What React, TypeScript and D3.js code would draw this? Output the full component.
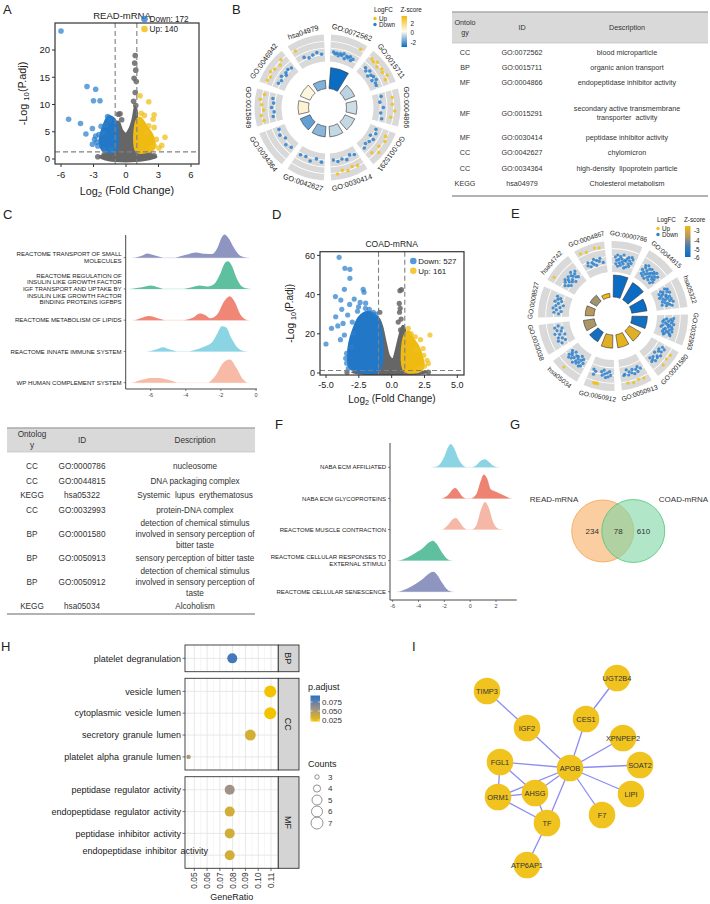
import React from 'react';
import * as d3 from 'd3';

const FONT = "'Liberation Sans', Arial, Helvetica, sans-serif";
type Pt = [number, number];

// ---------------- A: READ-mRNA volcano ----------------
const readGrayCloud: Pt[] = [[-2.4,0.4],[-1.6,1.0],[-1.0,1.3],[-1.0,6.4],[-0.7,6.8],[-0.35,5.2],[0,4.6],[0.35,5.6],[0.65,7.5],[0.85,9.6],[1.0,8.5],[1.0,1.3],[1.8,1.0],[2.8,0.4],[1.6,-0.2],[0,-0.4],[-1.6,-0.2]];
const readGrayPts: Pt[] = [[0.85,19],[0.8,17.6],[0.9,16.3],[0.75,14.8],[0.95,14.2],[0.85,12.2],[0.7,10.6],[0.9,9.8],[-0.55,8.3],[-0.7,8.2],[-0.4,7.2],[-2.6,0.4],[-2.0,0.8],[2.2,0.8],[2.6,0.6]];
const readDownCloud: Pt[] = [[-1.0,1.4],[-1.0,7.0],[-1.3,7.6],[-1.6,7.8],[-1.9,6.8],[-2.2,5.2],[-2.4,3.6],[-2.3,2.2],[-2.0,1.5]];
const readDownPts: Pt[] = [[-6.0,23.5],[-3.6,13.3],[-2.8,12.8],[-3.0,10.7],[-2.4,10.7],[-5.3,7.3],[-4.2,6.5],[-3.1,5.6],[-3.7,4.6],[-2.9,3.6],[-3.1,2.7],[-2.5,4.5],[-2.7,3.1],[-2.3,6],[-1.7,7.8],[-1.55,7.2],[-2.6,2.4],[-2.0,1.7],[-1.4,1.8],[-2.1,4.8],[-1.9,6.2],[-2.8,4.2]];
const readUpCloud: Pt[] = [[1.0,1.4],[1.0,7.0],[1.3,7.5],[1.6,6.8],[2.0,5.6],[2.4,4.4],[2.6,3.0],[2.5,1.8],[2.0,1.4]];
const readUpPts: Pt[] = [[1.3,11.6],[2.1,10.5],[1.7,8.0],[2.6,8.1],[2.5,7.3],[2.6,5.8],[3.6,4.0],[3.3,2.5],[3.05,2.0],[2.1,6.1],[1.4,8.4],[2.8,3.6],[2.3,2.0],[1.2,6.8],[1.9,4.8],[2.6,2.4]];
const readXTicks = [-6, -3, 0, 3, 6];
const readYTicks = [0, 5, 10, 15, 20];

// ---------------- D: COAD-mRNA volcano ----------------
const coadGrayCloud: Pt[] = [[-3.0,0.4],[-1.6,1.0],[-1.0,1.3],[-1.0,28],[-0.75,24],[-0.45,15],[-0.15,8],[0.1,7],[0.35,12],[0.6,19],[0.85,24],[1.0,22],[1.0,1.3],[1.8,1.0],[2.7,0.4],[1.6,-0.5],[0,-0.9],[-1.8,-0.5]];
const coadGrayPts: Pt[] = [[0.63,42],[0.75,42.5],[0.58,35.5],[0.65,33],[0.6,31],[0.72,27.5],[0.5,26],[0.68,22],[-0.9,31],[-3.4,0.4],[2.8,0.4]];
const coadDownCloud: Pt[] = [[-1.0,1.3],[-1.0,27],[-1.3,29.5],[-1.7,31],[-2.1,30.5],[-2.5,28],[-2.9,22],[-3.2,15],[-3.3,8],[-3.2,3],[-2.8,1.3]];
const coadDownPts: Pt[] = [[-4.0,59],[-3.56,53.4],[-3.18,52.9],[-3.18,48.3],[-3.6,42.7],[-2.17,42.7],[-2.1,41.2],[-4.28,39],[-3.87,37.2],[-2.85,37.7],[-3.8,32.5],[-1.98,35.6],[-4.26,28.7],[-3.7,25.3],[-4.58,22.8],[-5.0,14.8],[-4.1,24],[-3.6,19.4],[-3.35,29.6],[-2.52,33.8],[-1.7,32.5],[-3.43,10],[-3.43,5],[-3.05,13.4],[-2.9,20],[-3.9,17],[-3.3,2.4],[-2.6,31.5],[-1.4,31],[-2.0,33],[-3.0,26],[-3.5,7.5],[-2.4,36],[-1.2,30],[-3.2,35]];
const coadUpCloud: Pt[] = [[1.0,1.3],[1.0,19],[1.3,21],[1.6,17.5],[2.0,13.5],[2.3,8],[2.4,4],[2.2,1.3]];
const coadUpPts: Pt[] = [[2.92,19.4],[1.27,22.8],[1.8,18.5],[2.2,17],[2.7,6.5],[2.45,9],[1.9,11.7],[2.5,3.5],[2.1,2.3],[1.5,20],[2.4,12.5],[2.8,4.8]];
const coadXTicks = [-5, -2.5, 0, 2.5, 5];
const coadYTicks = [0, 20, 40, 60];

// ---------------- B: GO circle (READ) ----------------
const readTerms = ['GO:0072562','GO:0015711','GO:0004866','GO:0015291','GO:0030414','GO:0042627','GO:0034364','GO:0015849','GO:0046942','hsa04979'];
const readTermLogFC: number[][] = [
  [-1.2,-1.8,-1.5,-2.2,-1.4,-1.9,-1.1,-2.6,-1.6,-2.0,-1.3,-2.4,-1.7,2.5],
  [2.1,-1.5,1.8,-2.2,2.6,-1.2,1.5,-2.8,-1.8,2.3,-1.4,1.9,-2.5,-1.1,2.8,-1.9,1.6,-2.0],
  [-1.6,2.0,-2.3,1.8,-1.2,2.6,-2.0,1.5,-1.4],
  [-2.1,1.8,-1.5,2.4,-2.8,-1.2,1.6,-1.9,2.9,-2.4,1.3,-1.6],
  [-1.8,1.9,-2.4,1.5,-1.3,2.3,-2.0,1.7,-1.5,2.6,-2.2],
  [-1.5,-2.3,-1.1,-2.0,-1.7],
  [-1.9,-1.2,-2.5,-1.5,-2.1],
  [1.8,-1.5,2.4,-2.0,1.5,-1.2,2.1,-1.8,2.7,-1.4,1.6],
  [2.2,-1.6,1.7,-2.1,2.6,-1.3,1.9,-2.4,-1.8,1.4,-1.5,2.4,-2.0],
  [1.8,-1.4,-2.2,-1.7,-1.2,-2.0],
];
const readTermBar = [10, 5, 5, 5, 5, 5, 5, 5, 5, 4];
const readTermZ = [-2.6, -0.7, -0.5, -0.6, -0.6, -1.2, -1.6, 0.3, 0.2, -1.3];

// ---------------- E: GO circle (COAD) ----------------
const coadTerms = ['GO:0000786','GO:0044815','hsa05322','GO:0032993','GO:0001580','GO:0050913','GO:0050912','hsa05034','GO:0033038','GO:0008527','hsa04742','GO:0004867'];
const coadTermLogFC: number[][] = [
  [-2.1,-4.3,-3.2,-1.5,-5.0,-2.8,-3.9,-1.9,-4.6,-2.5,-3.5,-1.2,-4.1,-2.9,-5.3,-3.0,-2.2,-4.8,-1.7,-3.7,-2.6,-4.4,-1.4,-3.3,-2.0],
  [-3.4,-1.8,-4.7,-2.4,-3.9,-1.3,-5.1,-2.9,-4.2,-2.0,-3.6,-5.4,-1.6,-3.1,-4.5,-2.6,-3.8,-1.9,-4.9,-2.3,-3.3,-1.5,-4.0,-2.7,-5.2,-3.5,-2.1,-4.4],
  [-2.4,-4.0,-1.7,-3.3,-4.8,-2.1,-3.7,-1.4,-4.4,-2.8,-5.1,-3.0,-1.9,-4.2,-2.6,-3.5,-1.6,-4.6,-2.2,-3.9,-1.2,-3.1,-4.9,-2.5,-3.6,-1.8],
  [-1.6,-3.8,-2.5,-4.6,-1.9,-3.2,-5.0,-2.2,-4.1,-1.4,-3.5,-2.8,-4.8,-2.0,-3.0,-5.3,-1.7,-3.9,-2.4,-4.3,-1.5,-3.3,-2.7,-4.5,-2.1,-3.7,-1.8,-4.0],
  [-2.3,-1.4,1.2,-3.0,-1.8,-2.6,0.9,-1.2,-3.4,-2.0,-1.6,1.4,-2.8,-1.3,-2.2,-3.2,-1.9],
  [-2.2,1.1,-3.1,-1.6,-2.5,0.8,-1.3,-2.9,-1.9,1.3,-2.4,-1.5,-3.3,1.0,-2.0,-1.7],
  [-2.0,-3.2,-1.5,-2.7,-1.2,-2.3,-3.5,-1.8,-2.9,1.2,1.0,1.3,1.1,-2.5,-1.4,-3.0],
  [-3.1,-2.0,-4.3,-1.6,-3.6,-2.6,-4.8,-1.9,-3.3,-2.3,-4.0,-1.4,-3.8,-2.8,1.6,-2.1,-4.5,-3.0,-1.7,-3.5,-2.4,-4.1],
  [-2.6,-4.1,-1.8,-3.4,-2.2,-4.6,-3.0,-1.6,-3.8,-2.5,-4.3,-2.0,-3.2],
  [-3.6,-2.1,-4.4,-2.8,-1.7,-3.9,-2.4,-4.8,-3.1,-1.9,-4.0,-2.6,-3.4,-2.2],
  [-2.9,1.5,-3.8,-2.3,-4.5,-1.8,-3.3,-2.6,-4.1,-2.0,-3.6,-4.8,-2.4,-3.0,-1.6,-3.9,-2.8,-4.3,-2.2],
  [1.4,-3.1,-2.2,-3.8,1.0,-2.7,-3.4,-1.9,-4.0,-2.5,1.5,-3.0,-2.1,1.2,-3.6],
];
const coadTermBar = [10, 9, 7, 7, 6, 6, 6, 5, 5, 4, 3.5, 1.8];
const coadTermZ = [-6, -6, -6, -5.8, -3.3, -3.2, -3.3, -5.8, -4.1, -4.0, -4.2, -3.0];

// ---------------- Tables ----------------
const tableHeader = ['ID', 'Description'];
const tableBOnt = ['CC','BP','MF','MF','MF','CC','CC','KEGG'];
const tableBId = ['GO:0072562','GO:0015711','GO:0004866','GO:0015291','GO:0030414','GO:0042627','GO:0034364','hsa04979'];
const tableBDesc = [['blood microparticle'],['organic anion transport'],['endopeptidase inhibitor activity'],['secondary active transmembrane','transporter  activity'],['peptidase inhibitor activity'],['chylomicron'],['high-density  lipoprotein particle'],['Cholesterol metabolism']];
const tableCOnt = ['CC','CC','KEGG','CC','BP','BP','BP','KEGG'];
const tableCId = ['GO:0000786','GO:0044815','hsa05322','GO:0032993','GO:0001580','GO:0050913','GO:0050912','hsa05034'];
const tableCDesc = [['nucleosome'],['DNA packaging complex'],['Systemic  lupus  erythematosus'],['protein-DNA complex'],['detection of chemical stimulus','involved in sensory perception of','bitter taste'],['sensory perception of bitter taste'],['detection of chemical stimulus','involved in sensory perception of','taste'],['Alcoholism']];

// ---------------- C / F: ridges ----------------
const ridgeCLabels = [
  ['REACTOME TRANSPORT OF SMALL','MOLECULES'],
  ['REACTOME REGULATION OF','INSULIN LIKE GROWTH FACTOR','IGF TRANSPORT AND UPTAKE BY','INSULIN LIKE GROWTH FACTOR','BINDING PROTEINS IGFBPS'],
  ['REACTOME METABOLISM OF LIPIDS'],
  ['REACTOME INNATE IMMUNE SYSTEM'],
  ['WP HUMAN COMPLEMENT SYSTEM'],
];
const ridgeCDensity: Pt[][][] = [
  [[[-6.9,0],[-6.5,0.08],[-6.2,0.18],[-5.8,0.1],[-5.3,0]],[[-4.6,0],[-4.0,0.12],[-3.4,0.22],[-2.9,0.16],[-2.5,0.15],[-2.2,0.4],[-1.95,0.85],[-1.8,0.97],[-1.55,0.8],[-1.25,0.4],[-0.9,0.08],[-0.5,0]]],
  [[[-7.1,0],[-6.5,0.07],[-6.0,0.14],[-5.6,0.07],[-5.3,0]],[[-4.1,0],[-3.6,0.08],[-3.2,0.14],[-2.8,0.1],[-2.4,0.2],[-2.0,0.7],[-1.8,1.05],[-1.6,1.15],[-1.4,1.0],[-1.1,0.45],[-0.8,0.1],[-0.4,0]]],
  [[[-6.9,0],[-6.5,0.1],[-6.1,0.17],[-5.6,0.08],[-5.2,0]],[[-4.1,0],[-3.6,0.1],[-3.2,0.28],[-2.9,0.22],[-2.6,0.08],[-2.2,0.25],[-1.8,0.8],[-1.5,1.0],[-1.2,0.75],[-0.9,0.25],[-0.5,0]]],
  [[[-6.1,0],[-5.7,0.08],[-5.3,0.18],[-4.9,0.08],[-4.5,0]],[[-3.8,0],[-3.3,0.1],[-2.9,0.22],[-2.5,0.38],[-2.2,0.75],[-1.95,1.05],[-1.7,1.0],[-1.4,0.55],[-1.0,0.12],[-0.6,0]]],
  [[[-7.0,0],[-6.5,0.12],[-6.0,0.2],[-5.5,0.2],[-5.0,0.12],[-4.5,0]],[[-2.7,0],[-2.3,0.3],[-1.9,0.8],[-1.5,0.97],[-1.1,0.6],[-0.8,0.2],[-0.5,0]]],
];
const ridgeCTicks = [-6, -4, -2, 0];

const ridgeFLabels = [
  ['NABA ECM AFFILIATED'],
  ['NABA ECM GLYCOPROTEINS'],
  ['REACTOME MUSCLE CONTRACTION'],
  ['REACTOME CELLULAR RESPONSES TO','EXTERNAL STIMULI'],
  ['REACTOME CELLULAR SENESCENCE'],
];
const ridgeFDensity: Pt[][][] = [
  [[[-2.85,0],[-2.4,0.1],[-2.0,0.45],[-1.7,0.85],[-1.5,0.97],[-1.25,0.8],[-0.9,0.35],[-0.55,0.08],[-0.25,0]],[[0.15,0],[0.5,0.1],[0.85,0.28],[1.15,0.34],[1.5,0.2],[1.8,0.06],[2.1,0]]],
  [[[-2.1,0],[-1.7,0.15],[-1.35,0.38],[-1.15,0.43],[-0.9,0.3],[-0.6,0.08],[-0.35,0]],[[0.1,0],[0.5,0.2],[0.8,0.7],[1.05,1.0],[1.3,0.85],[1.6,0.38],[2.0,0.28],[2.5,0.15],[3.1,0]]],
  [[[-2.1,0],[-1.7,0.2],[-1.35,0.43],[-1.1,0.48],[-0.8,0.3],[-0.5,0.08],[-0.25,0]],[[0.15,0],[0.5,0.2],[0.85,0.85],[1.15,1.15],[1.45,0.9],[1.75,0.35],[2.1,0.05],[2.4,0]]],
  [[[-5.45,0],[-4.9,0.12],[-4.3,0.3],[-3.7,0.5],[-3.2,0.75],[-2.9,0.83],[-2.6,0.7],[-2.2,0.35],[-1.8,0.08],[-1.55,0]]],
  [[[-5.5,0],[-4.9,0.12],[-4.3,0.3],[-3.7,0.52],[-3.2,0.75],[-2.85,0.83],[-2.55,0.7],[-2.15,0.35],[-1.75,0.08],[-1.45,0]]],
];
const ridgeFTicks = [-6, -4, -2, 0, 2];

// ---------------- G: Venn ----------------
const vennNames = ['READ-mRNA', 'COAD-mRNA'];
const vennCounts = [234, 78, 610];

// ---------------- H: GO dot plot ----------------
const dotOntologies = ['BP', 'CC', 'MF'];
const dotTerms = [
  ['platelet degranulation'],
  ['vesicle lumen','cytoplasmic vesicle lumen','secretory granule lumen','platelet alpha granule lumen'],
  ['peptidase regulator activity','endopeptidase regulator activity','peptidase inhibitor activity','endopeptidase inhibitor activity'],
];
const dotGeneRatio = [[0.0797],[0.1094,0.1094,0.0938,0.0455],[0.0777,0.0777,0.0777,0.0777]];
const dotPadj = [[0.082],[0.012,0.012,0.034,0.05],[0.056,0.035,0.035,0.035]];
const dotCount = [[5],[7,7,6,3],[5,5,5,5]];
const dotXTicks = [0.05, 0.06, 0.07, 0.08, 0.09, 0.10, 0.11];
const padjTicks = [0.075, 0.05, 0.025];
const countLegend = [3, 4, 5, 6, 7];

// ---------------- I: PPI network ----------------
const netNodes: [string, number, number][] = [
  ['UGT2B4',137,8],['TIMP3',7,21],['CES1',106,49],['IGF2',47,58],['XPNPEP2',143,68],['FGL1',20,92],['APOB',90,98],
  ['SOAT2',160,95],['AHSG',55,123],['ORM1',18,127],['LIPI',151,124],['F7',122,145],['TF',67,153],['ATP6AP1',47,195],
];
const netEdges: [string, string][] = [
  ['TIMP3','IGF2'],['IGF2','APOB'],['UGT2B4','CES1'],['CES1','APOB'],['XPNPEP2','APOB'],['SOAT2','APOB'],['LIPI','APOB'],
  ['F7','APOB'],['TF','APOB'],['AHSG','APOB'],['ORM1','APOB'],['FGL1','APOB'],['FGL1','AHSG'],['FGL1','ORM1'],
  ['ORM1','AHSG'],['ORM1','TF'],['AHSG','TF'],['TF','ATP6AP1'],
];

// =====================================================================

const BLUE = '#2a80cc';
const YELLOW = '#f1bf1a';

function Sub({ main, sub, post }: { main: string; sub: string; post: string }) {
  return (
    <>
      {main}
      <tspan fontSize="0.72em" dy="0.3em">{sub}</tspan>
      <tspan dy="-0.3em">{post}</tspan>
    </>
  );
}

type VolcanoProps = {
  id: string;
  box: [number, number, number, number];
  xRef: [number, number]; xPx: [number, number];
  yRef: [number, number]; yPx: [number, number];
  xTicks: number[]; yTicks: number[]; fmt: (v: number) => string;
  tickFs: number; axisFs: number; titleFs: number; legendFs: number;
  title: string; titleX: number; titleY: number;
  legX: number; legY: number; legGap: number; down: string; up: string;
  yTitleX: number; xTitleY: number; dotR: number;
  gray: Pt[]; grayPts: Pt[]; blue: Pt[]; bluePts: Pt[]; yellow: Pt[]; yellowPts: Pt[];
};

function Volcano(p: VolcanoProps) {
  const [bx0, by0, bx1, by1] = p.box;
  const x = d3.scaleLinear().domain(p.xRef).range(p.xPx);
  const y = d3.scaleLinear().domain(p.yRef).range(p.yPx);
  const hull = d3.line<Pt>().x(d => x(d[0])).y(d => y(d[1])).curve(d3.curveCatmullRomClosed.alpha(0.5));
  const clip = `vclip-${p.id}`;
  const dots = (pts: Pt[], fill: string, op: number) =>
    pts.map((d, i) => <circle key={i} cx={x(d[0])} cy={y(d[1])} r={p.dotR} fill={fill} fillOpacity={op} />);
  return (
    <g>
      <defs>
        <clipPath id={clip}><rect x={bx0} y={by0} width={bx1 - bx0} height={by1 - by0} /></clipPath>
      </defs>
      <g clipPath={`url(#${clip})`}>
        <path d={hull(p.gray) ?? ''} fill="#666" stroke="#666" strokeWidth={2.5} strokeLinejoin="round" />
        {dots(p.grayPts, '#666', 0.85)}
        <path d={hull(p.blue) ?? ''} fill="#2277c6" stroke="#2277c6" strokeWidth={3} strokeLinejoin="round" />
        {dots(p.bluePts, BLUE, 0.72)}
        <path d={hull(p.yellow) ?? ''} fill="#efbb12" stroke="#efbb12" strokeWidth={3} strokeLinejoin="round" />
        {dots(p.yellowPts, YELLOW, 0.75)}
        {[-1, 1].map(v => (
          <line key={v} x1={x(v)} x2={x(v)} y1={by0} y2={by1} stroke="#808080" strokeWidth={1.1} strokeDasharray="5 3" />
        ))}
        <line x1={bx0} x2={bx1} y1={y(1.3)} y2={y(1.3)} stroke="#808080" strokeWidth={1.1} strokeDasharray="5 3" />
      </g>
      <rect x={bx0} y={by0} width={bx1 - bx0} height={by1 - by0} fill="none" stroke="#333" strokeWidth={1.2} />
      {p.yTicks.map(t => (
        <g key={t}>
          <line x1={bx0 - 3} x2={bx0} y1={y(t)} y2={y(t)} stroke="#333" />
          <text x={bx0 - 5} y={y(t)} dy="0.35em" textAnchor="end" fontSize={p.tickFs} fill="#222">{t}</text>
        </g>
      ))}
      {p.xTicks.map(t => (
        <g key={t}>
          <line x1={x(t)} x2={x(t)} y1={by1} y2={by1 + 3} stroke="#333" />
          <text x={x(t)} y={by1 + 4 + p.tickFs} textAnchor="middle" fontSize={p.tickFs} fill="#222">{p.fmt(t)}</text>
        </g>
      ))}
      <text x={p.titleX} y={p.titleY} textAnchor="middle" fontSize={p.titleFs} fill="#222">{p.title}</text>
      <text transform={`translate(${p.yTitleX},${(by0 + by1) / 2}) rotate(-90)`} textAnchor="middle" fontSize={p.axisFs} fill="#222">
        <Sub main="-Log " sub="10" post="(P.adj)" />
      </text>
      <text x={(bx0 + bx1) / 2} y={p.xTitleY} textAnchor="middle" fontSize={p.axisFs} fill="#222">
        <Sub main="Log" sub="2" post=" (Fold Change)" />
      </text>
      <circle cx={p.legX} cy={p.legY} r={3.3} fill={BLUE} fillOpacity={0.8} />
      <text x={p.legX + 5} y={p.legY + 3} fontSize={p.legendFs} fill="#222">{p.down}</text>
      <circle cx={p.legX} cy={p.legY + p.legGap} r={3.3} fill={YELLOW} fillOpacity={0.85} />
      <text x={p.legX + 5} y={p.legY + p.legGap + 3} fontSize={p.legendFs} fill="#222">{p.up}</text>
    </g>
  );
}

type CircleProps = {
  cx: number; cy: number; terms: string[]; genes: number[][]; bars: number[]; zs: number[];
  color: (z: number) => string; rIn: number; rOut: number; barIn: number; barOut: number;
  fcDomain: [number, number]; offsetDeg: number; labelFs: number; dotR: number; labelR: number;
};

function GOCircle(p: CircleProps) {
  const n = p.terms.length;
  const step = (2 * Math.PI) / n;
  const off = (p.offsetDeg * Math.PI) / 180;
  const pad = 0.05;
  const rFC = d3.scaleLinear().domain(p.fcDomain).range([p.rIn + 3, p.rOut - 3]);
  const rBar = d3.scaleLinear().domain([0, 10]).range([p.barIn, p.barOut]);
  const arc = d3.arc<any>();
  return (
    <g transform={`translate(${p.cx},${p.cy})`}>
      {p.terms.map((t, i) => {
        const a0 = off + i * step + pad;
        const a1 = off + (i + 1) * step - pad;
        const mid = (a0 + a1) / 2;
        const deg = (mid * 180) / Math.PI;
        const norm = ((deg % 360) + 360) % 360;
        const flip = norm > 128 && norm < 272;
        const lx = p.labelR * Math.sin(mid);
        const ly = -p.labelR * Math.cos(mid);
        const pos = d3.scalePoint<number>().domain(d3.range(p.genes[i].length)).range([a0 + 0.06, a1 - 0.06]);
        const bpad = 0.03;
        return (
          <g key={t}>
            <path d={arc({ innerRadius: p.rIn, outerRadius: p.rOut, startAngle: a0, endAngle: a1 }) ?? ''} fill="#d9d9d9" />
            {[0.25, 0.5, 0.75].map(f => {
              const r = p.rIn + f * (p.rOut - p.rIn);
              return <path key={f} d={arc({ innerRadius: r - 0.45, outerRadius: r + 0.45, startAngle: a0, endAngle: a1 }) ?? ''} fill="#fff" />;
            })}
            {p.genes[i].map((v, j) => {
              const a = pos(j) ?? mid;
              const r = rFC(v);
              return <circle key={j} cx={r * Math.sin(a)} cy={-r * Math.cos(a)} r={p.dotR} fill={v > 0 ? YELLOW : BLUE} fillOpacity={0.85} />;
            })}
            <path
              d={arc({ innerRadius: p.barIn, outerRadius: rBar(p.bars[i]), startAngle: a0 + bpad, endAngle: a1 - bpad }) ?? ''}
              fill={p.color(p.zs[i])} stroke="#333" strokeWidth={0.6}
            />
            <text transform={`translate(${lx},${ly}) rotate(${flip ? norm - 180 : norm})`} textAnchor="middle" dy="0.35em" fontSize={p.labelFs} fill="#222">{t}</text>
          </g>
        );
      })}
    </g>
  );
}

function CircleLegend({ x, y, zx, grad, ticks, tickY }: { x: number; y: number; zx: number; grad: string; ticks: string[]; tickY: number[] }) {
  return (
    <g fontSize={6.3} fill="#222">
      <text x={x} y={y}>LogFC</text>
      <circle cx={x + 1} cy={y + 6.5} r={1.7} fill={YELLOW} />
      <text x={x + 5} y={y + 8.8}>Up</text>
      <circle cx={x + 1} cy={y + 12.5} r={1.7} fill={BLUE} />
      <text x={x + 5} y={y + 14.8}>Down</text>
      <text x={zx - 1} y={y}>Z-score</text>
      <rect x={zx} y={y + 4} width={5.5} height={31} fill={`url(#${grad})`} />
      {ticks.map((t, i) => (
        <text key={t} x={zx + 9} y={tickY[i]} dy="0.35em">{t}</text>
      ))}
    </g>
  );
}

function Table({ x0, x1, top, headBottom, bottom, colX, fs, ont, ids, desc, rowY, lineH, headLines }: any) {
  return (
    <g fontSize={fs} fill="#333" textAnchor="middle">
      <rect x={x0} y={top} width={x1 - x0} height={headBottom - top} fill="#d9d9d9" />
      <line x1={x0} x2={x1} y1={top} y2={top} stroke="#aaa" strokeWidth={1.5} />
      <line x1={x0} x2={x1} y1={headBottom} y2={headBottom} stroke="#bbb" strokeWidth={0.6} />
      <line x1={x0} x2={x1} y1={bottom} y2={bottom} stroke="#666" strokeWidth={1} />
      <text x={colX[0]} y={(top + headBottom) / 2 - lineH / 2} dy="0.35em">{headLines[0]}</text>
      <text x={colX[0]} y={(top + headBottom) / 2 + lineH / 2} dy="0.35em">{headLines[1]}</text>
      <text x={colX[1]} y={(top + headBottom) / 2} dy="0.35em">{tableHeader[0]}</text>
      <text x={colX[2]} y={(top + headBottom) / 2} dy="0.35em">{tableHeader[1]}</text>
      {ont.map((o: string, i: number) => (
        <g key={i}>
          <text x={colX[0]} y={rowY[i]} dy="0.35em">{o}</text>
          <text x={colX[1]} y={rowY[i]} dy="0.35em">{ids[i]}</text>
          {desc[i].map((l: string, k: number) => (
            <text key={k} x={colX[2]} y={rowY[i] + (k - (desc[i].length - 1) / 2) * lineH} dy="0.35em" style={{ whiteSpace: 'pre' }}>{l}</text>
          ))}
        </g>
      ))}
    </g>
  );
}

type RidgeProps = {
  labels: string[][]; dens: Pt[][][]; colors: string[]; ticks: number[];
  xRef: [number, number]; xPx: [number, number]; axisX: [number, number];
  base0: number; gap: number; hUnit: number; axisTop: number; axisY: number; fs: number; lineH: number; tickFs: number;
};

function Ridges(p: RidgeProps) {
  const x = d3.scaleLinear().domain(p.xRef).range(p.xPx);
  const yBase = d3.scaleLinear().domain([0, 1]).range([p.base0, p.base0 + p.gap]);
  return (
    <g>
      {p.dens.map((parts, i) => {
        const b = yBase(i);
        const area = d3.area<Pt>().x(d => x(d[0])).y0(b).y1(d => b - d[1] * p.hUnit).curve(d3.curveMonotoneX);
        return (
          <g key={i}>
            <line x1={x(parts[0][0][0]) - 2} x2={x(parts[parts.length - 1][parts[parts.length - 1].length - 1][0]) + 2} y1={b} y2={b} stroke={p.colors[i]} strokeOpacity={0.35} strokeWidth={0.8} />
            {parts.map((seg, k) => <path key={k} d={area(seg) ?? ''} fill={p.colors[i]} />)}
          </g>
        );
      })}
      <line x1={p.axisX[0]} x2={p.axisX[0]} y1={p.axisTop} y2={p.axisY} stroke="#333" strokeWidth={0.9} />
      <line x1={p.axisX[0]} x2={p.axisX[1]} y1={p.axisY} y2={p.axisY} stroke="#333" strokeWidth={0.9} />
      {p.ticks.map(t => (
        <g key={t}>
          <line x1={x(t)} x2={x(t)} y1={p.axisY} y2={p.axisY + 2} stroke="#333" strokeWidth={0.6} />
          <text x={x(t)} y={p.axisY + 4.5} dy="0.7em" textAnchor="middle" fontSize={p.tickFs} fill="#444">{t}</text>
        </g>
      ))}
      {p.labels.map((ls, i) => {
        const b = yBase(i);
        return (
          <g key={i}>
            <line x1={p.axisX[0] - 2} x2={p.axisX[0]} y1={b} y2={b} stroke="#333" strokeWidth={0.6} />
            {ls.map((l, k) => (
              <text key={k} x={p.axisX[0] - 4} y={b + (k - (ls.length - 1) / 2) * p.lineH} dy="0.35em" textAnchor="end" fontSize={p.fs} fill="#222">{l}</text>
            ))}
          </g>
        );
      })}
    </g>
  );
}

function DotPlot() {
  const x = d3.scaleLinear().domain([0.05, 0.11]).range([194.3, 271]);
  const px0 = 185, px1 = 278.3, sx1 = 299;
  const panelY: [number, number][] = [[645, 671.7], [678.3, 770], [776.7, 868.3]];
  const col = d3.scaleLinear<string>().domain([0.02, 0.055, 0.09]).range(['#f3c200', '#a39384', '#2a6fc9']).clamp(true);
  const size = d3.scaleLinear().domain([3, 5, 7]).range([2.2, 5, 6]);
  const minor = d3.range(0.045, 0.116, 0.01);
  return (
    <g>
      {dotOntologies.map((o, pi) => {
        const [t, b] = panelY[pi];
        const y = d3.scalePoint<string>().domain(dotTerms[pi]).range([t, b]).padding(0.6);
        return (
          <g key={o}>
            <rect x={px0} y={t} width={px1 - px0} height={b - t} fill="#fff" />
            {minor.map(m => <line key={m} x1={x(m)} x2={x(m)} y1={t} y2={b} stroke="#f0f0f0" strokeWidth={0.6} />)}
            {dotXTicks.map(m => <line key={m} x1={x(m)} x2={x(m)} y1={t} y2={b} stroke="#e2e2e2" strokeWidth={0.8} />)}
            {dotTerms[pi].map(term => <line key={term} x1={px0} x2={px1} y1={y(term)} y2={y(term)} stroke="#e2e2e2" strokeWidth={0.8} />)}
            {dotTerms[pi].map((term, i) => (
              <circle key={term} cx={x(dotGeneRatio[pi][i])} cy={y(term)} r={size(dotCount[pi][i])} fill={col(dotPadj[pi][i])} />
            ))}
            <rect x={px0} y={t} width={px1 - px0} height={b - t} fill="none" stroke="#333" strokeWidth={0.9} />
            <rect x={px1} y={t} width={sx1 - px1} height={b - t} fill="#d4d4d4" stroke="#333" strokeWidth={0.9} />
            <text transform={`translate(${(px1 + sx1) / 2},${(t + b) / 2}) rotate(90)`} textAnchor="middle" dy="0.35em" fontSize={9} fill="#222">{o}</text>
            {dotTerms[pi].map((term, i) => {
              const last = pi === 2 && i === dotTerms[pi].length - 1;
              return (
                <g key={term}>
                  {!last && <line x1={px0 - 2.5} x2={px0} y1={y(term)} y2={y(term)} stroke="#333" strokeWidth={0.7} />}
                  <text x={last ? 208 : px0 - 4} y={(y(term) ?? 0) - (last ? 4 : 0)} dy="0.35em" textAnchor="end" fontSize={9} wordSpacing={1.2} fill="#222">{term}</text>
                </g>
              );
            })}
          </g>
        );
      })}
      {dotXTicks.map(t => (
        <g key={t}>
          <line x1={x(t)} x2={x(t)} y1={868.3} y2={871} stroke="#333" strokeWidth={0.7} />
          <text transform={`translate(${x(t)},${872.5}) rotate(-90)`} textAnchor="end" dy="0.35em" fontSize={8.3} fill="#333">{t.toFixed(2)}</text>
        </g>
      ))}
      <text x={(px0 + px1) / 2} y={900} textAnchor="middle" fontSize={9} fill="#222">GeneRatio</text>
      <defs>
        <linearGradient id="padjGrad" x1="0" x2="0" y1="0" y2="1">
          <stop offset="0%" stopColor={col(0.093)} />
          <stop offset="50%" stopColor={col(0.057)} />
          <stop offset="100%" stopColor={col(0.021)} />
        </linearGradient>
      </defs>
      <text x={308} y={690} fontSize={9} fill="#222">p.adjust</text>
      <rect x={310.5} y={695.5} width={9.5} height={26} fill="url(#padjGrad)" />
      {padjTicks.map(t => {
        const yy = 695.5 + ((0.093 - t) / (0.093 - 0.021)) * 26;
        return (
          <g key={t}>
            <line x1={310.5} x2={312.5} y1={yy} y2={yy} stroke="#fff" strokeWidth={0.6} />
            <line x1={318} x2={320} y1={yy} y2={yy} stroke="#fff" strokeWidth={0.6} />
            <text x={322} y={yy} dy="0.35em" fontSize={8} fill="#333">{t.toFixed(3)}</text>
          </g>
        );
      })}
      <text x={308} y={767} fontSize={9} fill="#222">Counts</text>
      {countLegend.map((c, i) => {
        const yy = 777 + i * 11.5;
        return (
          <g key={c}>
            <circle cx={317} cy={yy} r={size(c)} fill="none" stroke="#777" strokeWidth={0.8} />
            <text x={328} y={yy} dy="0.35em" fontSize={8} fill="#333">{c}</text>
          </g>
        );
      })}
    </g>
  );
}

function Network() {
  const x = d3.scaleLinear().domain([0, 160]).range([480, 640]);
  const y = d3.scaleLinear().domain([0, 195]).range([670, 865]);
  const byName = new Map(netNodes.map(n => [n[0], n]));
  return (
    <g>
      {netEdges.map(([a, b], i) => {
        const na = byName.get(a)!, nb = byName.get(b)!;
        return <line key={i} x1={x(na[1])} y1={y(na[2])} x2={x(nb[1])} y2={y(nb[2])} stroke="#8c8cf2" strokeWidth={1.3} />;
      })}
      {netNodes.map(n => (
        <g key={n[0]}>
          <circle cx={x(n[1])} cy={y(n[2])} r={13.3} fill="#f0c31f" />
          <text x={x(n[1])} y={y(n[2])} dy="0.35em" textAnchor="middle" fontSize={7.4} fill="#333">{n[0]}</text>
        </g>
      ))}
    </g>
  );
}

function Venn() {
  const x = d3.scaleLinear().domain([0, 1]).range([602.7, 633.3]);
  return (
    <g fontSize={8} fill="#333">
      <circle cx={x(0)} cy={531} r={31} fill="#f8b36f" fillOpacity={0.65} stroke="#f5a453" strokeWidth={0.8} />
      <circle cx={x(1)} cy={531} r={31.5} fill="#7ed6a3" fillOpacity={0.6} stroke="#4cc47a" strokeWidth={0.8} />
      <text x={592.3} y={531} dy="0.35em" textAnchor="middle">{vennCounts[0]}</text>
      <text x={618.3} y={531} dy="0.35em" textAnchor="middle">{vennCounts[1]}</text>
      <text x={643.5} y={531} dy="0.35em" textAnchor="middle">{vennCounts[2]}</text>
      <text x={554} y={499} dy="0.35em" textAnchor="middle">{vennNames[0]}</text>
      <text x={683.5} y={499} dy="0.35em" textAnchor="middle">{vennNames[1]}</text>
    </g>
  );
}

const panelLetters: [string, number, number][] = [
  ['A', 3, 14], ['B', 232, 14], ['C', 3, 219], ['D', 272, 219], ['E', 511, 218],
  ['F', 275, 429], ['G', 510, 429], ['H', 1, 651], ['I', 412, 651],
];

export default function App() {
  const zB = d3.scaleLinear<string>().domain([-2.5, 0, 2.5]).range(['#0b6cc4', '#fffbee', '#f1b80c']).clamp(true);
  const zE = d3.scaleLinear<string>().domain([-6, -5, -4, -3]).range(['#0b6cc4', '#3f7bb5', '#b8995f', '#f2b90f']).clamp(true);
  return (
    <svg width={710} height={904} style={{ position: 'absolute', left: 0, top: 0, background: '#fff' }} fontFamily={FONT}>
      <defs>
        <linearGradient id="zGradB" x1="0" x2="0" y1="0" y2="1">
          <stop offset="0%" stopColor={zB(2.5)} />
          <stop offset="50%" stopColor={zB(0)} />
          <stop offset="100%" stopColor={zB(-2.5)} />
        </linearGradient>
        <linearGradient id="zGradE" x1="0" x2="0" y1="0" y2="1">
          <stop offset="0%" stopColor={zE(-3)} />
          <stop offset="33%" stopColor={zE(-4)} />
          <stop offset="66%" stopColor={zE(-5)} />
          <stop offset="100%" stopColor={zE(-6)} />
        </linearGradient>
      </defs>
      <rect width={710} height={904} fill="#fff" />
      {panelLetters.map(([l, x, y]) => (
        <text key={l} x={x} y={y} fontSize={13} fill="#222">{l}</text>
      ))}

      <Volcano
        id="a" box={[55, 23, 199, 164]} xRef={[-6, 6]} xPx={[61, 191]} yRef={[0, 20]} yPx={[159, 50]}
        xTicks={readXTicks} yTicks={readYTicks} fmt={v => String(v)} tickFs={9.5} axisFs={10.8} titleFs={9.5} legendFs={8.2}
        title="READ-mRNA" titleX={122} titleY={19} legX={144.5} legY={19} legGap={10} down="Down: 172" up="Up: 140"
        yTitleX={27} xTitleY={195} dotR={2.8}
        gray={readGrayCloud} grayPts={readGrayPts} blue={readDownCloud} bluePts={readDownPts} yellow={readUpCloud} yellowPts={readUpPts}
      />

      <GOCircle cx={327.5} cy={107.5} terms={readTerms} genes={readTermLogFC} bars={readTermBar} zs={readTermZ} color={zB}
        rIn={46} rOut={73} barIn={19} barOut={40} fcDomain={[-3.5, 3.5]} offsetDeg={0} labelFs={7.3} dotR={1.8} labelR={79} />
      <CircleLegend x={374} y={12} zx={401.5} grad="zGradB" ticks={['2', '0', '-2']} tickY={[23.5, 33, 42.5]} />

      <Table x0={452} x1={708} top={12} headBottom={43} bottom={196} colX={[465, 522, 627]} fs={7.2}
        ont={tableBOnt} ids={tableBId} desc={tableBDesc} rowY={[52.5, 67, 82.5, 113, 137.5, 152, 168.5, 183]} lineH={9.5} headLines={['Ontolo', 'gy']} />

      <Ridges labels={ridgeCLabels} dens={ridgeCDensity} colors={['#8e95c0', '#5fc0a0', '#ef8676', '#8ad4e3', '#f6baa6']} ticks={ridgeCTicks}
        xRef={[-6, 0]} xPx={[150.7, 256]} axisX={[125.7, 257]} base0={257.7} gap={31.25} hUnit={24} axisTop={235} axisY={389} fs={6.1} lineH={6.7} tickFs={5.5} />

      <Volcano
        id="d" box={[320, 251.7, 464, 375]} xRef={[-5, 5]} xPx={[326, 457.3]} yRef={[0, 60]} yPx={[373, 255.4]}
        xTicks={coadXTicks} yTicks={coadYTicks} fmt={v => v.toFixed(1)} tickFs={9} axisFs={10} titleFs={8.5} legendFs={8}
        title="COAD-mRNA" titleX={391.7} titleY={247} legX={413.3} legY={261} legGap={9.7} down="Down: 527" up="Up: 161"
        yTitleX={294} xTitleY={403} dotR={2.6}
        gray={coadGrayCloud} grayPts={coadGrayPts} blue={coadDownCloud} bluePts={coadDownPts} yellow={coadUpCloud} yellowPts={coadUpPts}
      />

      <GOCircle cx={613} cy={316} terms={coadTerms} genes={coadTermLogFC} bars={coadTermBar} zs={coadTermZ} color={zE}
        rIn={44} rOut={75} barIn={19} barOut={41} fcDomain={[-6, 2]} offsetDeg={-4} labelFs={6.6} dotR={1.6} labelR={81.5} />
      <CircleLegend x={657} y={222} zx={685} grad="zGradE" ticks={['-3', '-4', '-5', '-6']} tickY={[231, 240.5, 249.5, 258]} />

      <Table x0={7} x1={255} top={428} headBottom={452} bottom={614} colX={[32, 82, 195]} fs={8.2}
        ont={tableCOnt} ids={tableCId} desc={tableCDesc} rowY={[466.5, 481, 495.5, 510, 534, 558, 582, 606]} lineH={11.2} headLines={['Ontolog', 'y']} />

      <Ridges labels={ridgeFLabels} dens={ridgeFDensity} colors={['#8ad4e3', '#ee8374', '#f6b8a6', '#5fc0a0', '#8e95c0']} ticks={ridgeFTicks}
        xRef={[-6, 2]} xPx={[392.7, 496]} axisX={[390, 516.7]} base0={467.3} gap={31.1} hUnit={24} axisTop={443} axisY={600} fs={6} lineH={6.5} tickFs={5.5} />

      <Venn />
      <DotPlot />
      <Network />
    </svg>
  );
}
